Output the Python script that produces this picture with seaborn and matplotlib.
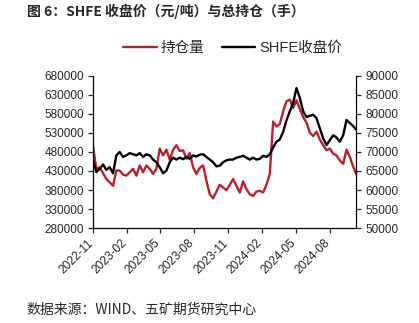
import numpy as np
import pandas as pd
import matplotlib
matplotlib.use("Agg")
import matplotlib.pyplot as plt
import matplotlib.transforms as mtransforms
import seaborn as sns

sns.set_theme(style="ticks")
plt.rcParams['font.family'] = ['Liberation Sans', 'Noto Sans CJK SC', 'DejaVu Sans']

start_date = "2022-11-01"
n_points = 80
step = "9D"

open_interest = [
    495000, 435600, 440000, 424000, 408900, 400000, 391100, 431100, 431100, 420400,
    417800, 426700, 435600, 417800, 444400, 426700, 444400, 435600, 422200, 435600,
    488900, 471100, 486200, 459600, 486200, 497800, 482700, 484400, 462200, 477300,
    440000, 422200, 438200, 444400, 404400, 368900, 358200, 376000, 393800, 386700,
    379600, 393800, 408900, 391100, 373300, 402700, 382200, 368900, 364400, 376000,
    377800, 373300, 393800, 422200, 560000, 546700, 553800, 586700, 613300, 617800,
    595600, 616000, 592900, 571600, 557300, 530700, 521800, 533300, 512900, 497800,
    484400, 488900, 475600, 471100, 457800, 448900, 486200, 466700, 441800, 420400,
]
close_price = [
    67800, 64700, 65600, 66700, 65300, 66000, 64400, 69100, 70000, 68700,
    69100, 69700, 69400, 69100, 69700, 68700, 69400, 69100, 68000, 67300,
    66000, 64400, 65100, 67300, 68500, 68000, 68500, 68100, 68700, 68200,
    69100, 68800, 69300, 69400, 68700, 68000, 67300, 66200, 66400, 67300,
    67800, 68000, 68000, 68500, 68700, 69000, 68500, 68000, 68500, 68000,
    68200, 69000, 68700, 69400, 71200, 72700, 73300, 75300, 78300, 80700,
    82900, 86800, 84200, 80700, 79200, 79500, 79800, 78900, 76200, 73600,
    71800, 73100, 74400, 73800, 72700, 74400, 78400, 77600, 76800, 75800,
]

left_ticks = list(range(280000, 680001, 50000))
right_ticks = list(range(50000, 90001, 5000))
x_tick_dates = ["2022-11-01", "2023-02-01", "2023-05-01", "2023-08-01",
                "2023-11-01", "2024-02-01", "2024-05-01", "2024-08-01"]
x_tick_labels = ["2022-11", "2023-02", "2023-05", "2023-08",
                 "2023-11", "2024-02", "2024-05", "2024-08"]

title = "图 6：SHFE 收盘价（元/吨）与总持仓（手）"
source = "数据来源：WIND、五矿期货研究中心"
label_oi = "持仓量"
label_px = "SHFE收盘价"

dates = pd.date_range(start_date, periods=n_points, freq=step)
df = pd.DataFrame({"date": dates, "oi": open_interest, "px": close_price})

fig = plt.figure(figsize=(4.19, 3.23), dpi=100)
ax = fig.add_axes([0.222, 0.294, 0.628, 0.471])
ax2 = ax.twinx()

red = "#B3232F"
sns.lineplot(data=df, x="date", y="oi", ax=ax, color=red, lw=1.7, label=label_oi, legend=False)
sns.lineplot(data=df, x="date", y="px", ax=ax2, color="black", lw=1.7, label=label_px, legend=False)

ax.set_ylim(280000, 680000)
ax2.set_ylim(50000, 90000)
ax.set_yticks(left_ticks)
ax2.set_yticks(right_ticks)
ax.set_xlim(pd.Timestamp("2022-11-01"), pd.Timestamp("2024-10-11"))
ax.set_xlabel("")
ax.set_ylabel("")
ax2.set_ylabel("")

for a in (ax, ax2):
    a.spines["top"].set_visible(False)
    for s in a.spines.values():
        s.set_linewidth(0.9)
        s.set_color("black")
ax.spines["right"].set_visible(False)
ax2.spines["left"].set_visible(False)
ax2.spines["bottom"].set_visible(False)

ax.tick_params(axis="y", labelsize=8.5, length=3.5, width=0.9, pad=3)
ax2.tick_params(axis="y", labelsize=8.5, length=3.5, width=0.9, pad=3)
ax.tick_params(axis="x", length=3.5, width=0.9, pad=3)

ax.set_xticks([pd.Timestamp(d) for d in x_tick_dates], labels=x_tick_labels,
              rotation=45, ha="right", rotation_mode="anchor", fontsize=8.6)
shift = mtransforms.ScaledTranslation(-0.06, 0, fig.dpi_scale_trans)
for lbl in ax.get_xticklabels():
    lbl.set_transform(lbl.get_transform() + shift)

h1, l1 = ax.get_legend_handles_labels()
h2, l2 = ax2.get_legend_handles_labels()
fig.legend(h1 + h2, l1 + l2, loc="center", bbox_to_anchor=(0.555, 0.852), ncol=2,
           frameon=False, fontsize=10.5, handlelength=2.3, columnspacing=1.2,
           handletextpad=0.25)

fig.text(0.064, 0.966, title, fontsize=10, fontweight="bold", va="center", ha="left",
         family=['Noto Sans CJK SC', 'DejaVu Sans'])
fig.text(0.064, 0.04, source, fontsize=10, va="center", ha="left",
         family=['Noto Sans CJK SC', 'DejaVu Sans'])

fig.savefig("out.png", dpi=100)
